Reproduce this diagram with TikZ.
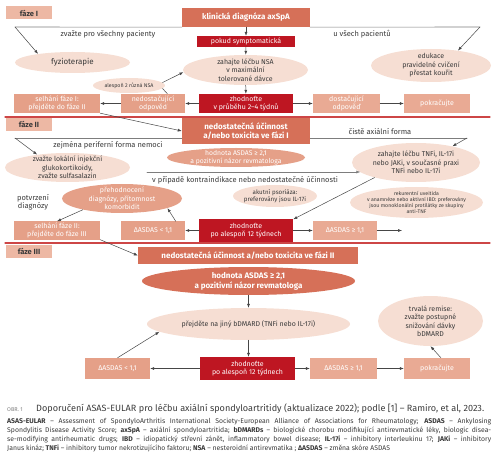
\documentclass[tikz,border=0pt]{standalone}
\usepackage{fontspec}
\setmainfont{Fira Sans}
\usetikzlibrary{shapes.geometric,arrows.meta}

\definecolor{cHead}{RGB}{214,112,88}
\definecolor{cRed}{RGB}{190,22,34}
\definecolor{cMid}{RGB}{229,160,136}
\definecolor{cSoft}{RGB}{233,170,148}
\definecolor{cPhase}{RGB}{237,184,164}
\definecolor{cLight}{RGB}{246,222,211}
\definecolor{cText}{RGB}{58,58,58}
\definecolor{cArrow}{RGB}{70,70,70}
\definecolor{cGray}{RGB}{125,125,125}
\definecolor{cSep}{RGB}{205,70,70}

\newcommand{\fsz}[2]{\fontsize{#1pt}{#2pt}\selectfont}

\begin{document}
\begin{tikzpicture}[x=1pt,y=-1pt,line cap=round]

    % Styles
    \tikzstyle{every node}=[inner sep=0pt, align=center, text=cText]
    \tikzstyle{phase}=[fill=cPhase, minimum width=46pt, minimum height=13pt, font=\bfseries\fsz{7.5}{8}]
    \tikzstyle{headbox}=[fill=cHead, text=white, font=\bfseries\fsz{8}{9.5}]
    \tikzstyle{redbox}=[fill=cRed, text=white, font=\fsz{7}{8}]
    \tikzstyle{midbox}=[fill=cMid, text=white, font=\fsz{7}{8}]
    \tikzstyle{softbox}=[fill=cSoft, text=white, font=\fsz{7}{8}]
    \tikzstyle{light}=[ellipse, fill=cLight, inner sep=-3pt, font=\fsz{7}{8.5}]
    \tikzstyle{midell}=[ellipse, fill=cMid, text=white, inner sep=-3pt, font=\fsz{6.8}{7.6}]
    \tikzstyle{headell}=[ellipse, fill=cHead, text=white, inner sep=-3pt, font=\bfseries\fsz{8}{10}]
    \tikzstyle{note}=[font=\fsz{7.5}{8.5}]
    \tikzstyle{arr}=[draw=cArrow, line width=0.5pt, -{Latex[length=4pt,width=3pt]}]
    \tikzstyle{gline}=[draw=cGray, line width=0.6pt]
    \tikzstyle{sep}=[draw=cSep, line width=1.2pt]

    \useasboundingbox (0,0) rectangle (500,462);

    % phase separators
    \draw[sep] (5,117) -- (490,117);
    \draw[sep] (5,243) -- (490,243);

    % phase I
    \node[phase] (fazeI) at (29,13) {fáze I};
    \node[headbox, minimum width=128pt, minimum height=19pt] (diag) at (246,17.5) {klinická diagnóza axSpA};
    \node[redbox, minimum width=98pt, minimum height=11pt] (sympt) at (246,41.5) {pokud symptomatická};
    \node[light, minimum width=125pt, minimum height=30pt] (nsa) at (245.5,70) {zahajte léčbu NSA\\v maximální\\tolerované dávce};
    \node[redbox, minimum width=94pt, minimum height=19pt] (eval1) at (246,103.5) {zhodnoťte\\v průběhu 2–4 týdnů};
    \node[midbox, minimum width=64pt, minimum height=19pt] (insuf1) at (153,103.5) {nedostačující\\odpověď};
    \node[midbox, minimum width=86pt, minimum height=19pt] (fail1) at (57,103.5) {selhání fáze I:\\přejděte do fáze II};
    \node[light, minimum width=72pt, minimum height=15pt, font=\fsz{5.3}{6}] (twonsa) at (129,85.5) {alespoň 2 různá NSA};
    \node[softbox, minimum width=67pt, minimum height=19pt] (suf1) at (346.5,103.5) {dostačující\\odpověď};
    \node[softbox, minimum width=66pt, minimum height=19pt] (cont1) at (437,103.5) {pokračujte};
    \node[light, minimum width=120pt, minimum height=33pt] (edu) at (431,65.5) {edukace\\pravidelné cvičení\\přestat kouřit};
    \node[light, minimum width=115pt, minimum height=21pt, font=\fsz{8}{9}] (physio) at (72.5,62.5) {fyzioterapie};
    \coordinate (allL) at (15,27);
    \coordinate (allR) at (480,27);
    \node[note] (allTxt) at (108,34) {zvažte pro všechny pacienty};
    \node[note] (allTxtR) at (362,34) {u všech pacientů};

    \draw[gline] (allL) -- (diag.south west);
    \draw[gline] (diag.south east) -- (allR);
    \draw[arr] (allL) -- (physio.166);
    \draw[arr] (allR) -- (edu.29);
    \draw[arr] (diag) -- (sympt);
    \draw[arr] (sympt) -- (nsa);
    \draw[arr] (nsa) -- (eval1);
    \draw[arr] (eval1) -- (insuf1);
    \draw[arr] (insuf1) -- (fail1);
    \draw[arr] (eval1) -- (suf1);
    \draw[arr] (suf1) -- (cont1);
    \draw[draw=cArrow, line width=0.5pt] (insuf1.34) -- (twonsa.-5);
    \draw[arr] (twonsa.5) -- (nsa.182);

    % phase II
    \node[phase] (fazeII) at (29,124.5) {fáze II};
    \node[headbox, minimum width=128pt, minimum height=26pt] (ned2) at (246,131) {nedostatečná účinnost\\a/nebo toxicita ve fázi I};
    \coordinate (perL) at (15,138);
    \coordinate (axR) at (467,138);
    \node[note] (periph) at (108,145) {zejména periferní forma nemoci};
    \node[note] (axial) at (380,132) {čistě axiální forma};
    \node[light, minimum width=125pt, minimum height=29pt] (local) at (67.5,167.5) {zvažte lokální injekční\\glukokortikoidy,\\zvažte sulfasalazin};
    \node[midell, minimum width=138pt, minimum height=19pt] (hod2) at (236,157.5) {hodnota ASDAS ≥ 2,1\\a pozitivní názor revmatologa};
    \node[light, minimum width=128pt, minimum height=39pt] (tnfi) at (416,162.5) {zahajte léčbu TNFi, IL-17i\\nebo JAKi, v současné praxi\\TNFi nebo IL-17i};
    \coordinate (kontra) at (147,172);
    \node[note] (kontraTxt) at (245,180) {v případě kontraindikace nebo nedostatečné účinnosti};
    \node[light, minimum width=84pt, minimum height=22pt, font=\fsz{6.2}{7.2}] (psor) at (275,196) {akutní psoriáza:\\preferovány jsou IL-17i};
    \node[light, minimum width=133pt, minimum height=31pt, font=\fsz{5.2}{6}] (uveit) at (416.5,202.5) {rekurentní uveitida\\v anamnéze nebo aktivní IBD: preferovány\\jsou monoklonální protilátky ze skupiny\\anti-TNF};
    \node[midell, minimum width=120pt, minimum height=29pt, font=\fsz{7}{8.5}] (reeval) at (122,198.5) {přehodnocení\\diagnózy, přítomnost\\komorbidit};
    \node[note] (confirm) at (33,202.5) {potvrzení\\diagnózy};
    \node[midbox, minimum width=86pt, minimum height=18pt] (fail2) at (57,230.5) {selhání fáze II:\\přejděte do fáze III};
    \node[midbox, minimum width=64pt, minimum height=18pt] (lowA2) at (153,230.5) {ΔASDAS < 1,1};
    \node[redbox, minimum width=94pt, minimum height=22pt] (eval2) at (246,230.5) {zhodnoťte\\po alespoň 12 týdnech};
    \node[softbox, minimum width=64pt, minimum height=18pt] (highA2) at (345,230.5) {ΔASDAS ≥ 1,1};
    \coordinate (next2) at (402,230.5);

    \draw[arr] (fail1.south east) -- (ned2.west);
    \draw[gline] (perL) -- (ned2.west |- perL);
    \draw[gline] (ned2.east |- axR) -- (axR);
    \draw[arr] (perL) -- (local.157);
    \draw[arr] (axR) -- (tnfi.24);
    \draw[gline, -{Latex[length=4pt,width=3pt]}] (kontra) -- (kontra -| tnfi.190);
    \draw[arr] (tnfi.200) -- (eval2.north east);
    \draw[arr] (eval2) -- (lowA2);
    \draw[arr] (lowA2.22) -- (reeval.-12);
    \draw[arr] (reeval.196) -- (fail2.north);
    \draw[arr] (eval2) -- (highA2);
    \draw[arr] (highA2) -- (next2);

    % phase III
    \node[phase] (fazeIII) at (29,251) {fáze III};
    \node[headbox, minimum width=220pt, minimum height=17pt] (ned3) at (248,255.5) {nedostatečná účinnost a/nebo toxicita ve fázi II};
    \node[headell, minimum width=213pt, minimum height=28pt] (hod3) at (248.5,281) {hodnota ASDAS ≥ 2,1\\a pozitivní názor revmatologa};
    \node[light, minimum width=203pt, minimum height=32pt] (bdmard) at (248.5,324) {přejděte na jiný bDMARD (TNFi nebo IL-17i)};
    \node[redbox, minimum width=95pt, minimum height=23pt] (eval3) at (247.5,368.5) {zhodnoťte\\po alespoň 12 týdnech};
    \node[midbox, minimum width=65pt, minimum height=21pt] (lowA3) at (117.5,368.5) {ΔASDAS < 1,1};
    \node[softbox, minimum width=67pt, minimum height=21pt] (highA3) at (343.5,368.5) {ΔASDAS ≥ 1,1};
    \node[softbox, minimum width=66pt, minimum height=21pt] (cont3) at (437,368.5) {pokračujte};
    \node[light, minimum width=105pt, minimum height=50pt] (remis) at (430.5,321) {trvalá remise:\\zvažte postupné\\snižování dávky\\bDMARD};

    \draw[arr] (fail2.south east) -- (ned3.west);
    \draw[arr] (hod3) -- (bdmard);
    \draw[arr] (bdmard) -- (bdmard |- eval3.north);
    \draw[arr] (eval3) -- (lowA3);
    \draw[arr] (eval3) -- (highA3);
    \draw[arr] (highA3) -- (cont3);
    \draw[arr] (lowA3.north) -- (bdmard.185);
    \draw[arr] (cont3.70) -- (remis.south);

    % caption
    \node[anchor=west, text=cGray, font=\fsz{5.5}{6}] (figno) at (7,409.5) {OBR. 1};
    \node[anchor=west, font=\fsz{9.1}{10}] (caption) at (36,409) {Doporučení ASAS-EULAR pro léčbu axiální spondyloartritidy (aktualizace 2022); podle [1] – Ramiro, et al, 2023.};
    \node[anchor=north west, text width=484pt, align=justify, font=\fsz{6.85}{9.1}] (legend) at (7,417.5) {\hyphenpenalty=10000 {\bfseries ASAS-EULAR} – Assessment of SpondyloArthritis International Society-European Alliance of Associations for Rheumatology; {\bfseries ASDAS} – Ankylosing\linebreak Spondylitis Disease Activity Score; {\bfseries axSpA} – axiální spondyloartritida; {\bfseries bDMARDs} – biologické chorobu modifikující antirevmatické léky, biologic disea-\linebreak se-modifying antirheumatic drugs; {\bfseries IBD} – idiopatický střevní zánět, inflammatory bowel disease; {\bfseries IL-17i} – inhibitory interleukinu 17; {\bfseries JAKi} – inhibitory\linebreak Janus kináz; {\bfseries TNFi} – inhibitory tumor nekrotizujícího faktoru; {\bfseries NSA} – nesteroidní antirevmatika ; {\bfseries ΔASDAS} – změna skóre ASDAS};

\end{tikzpicture}
\end{document}
